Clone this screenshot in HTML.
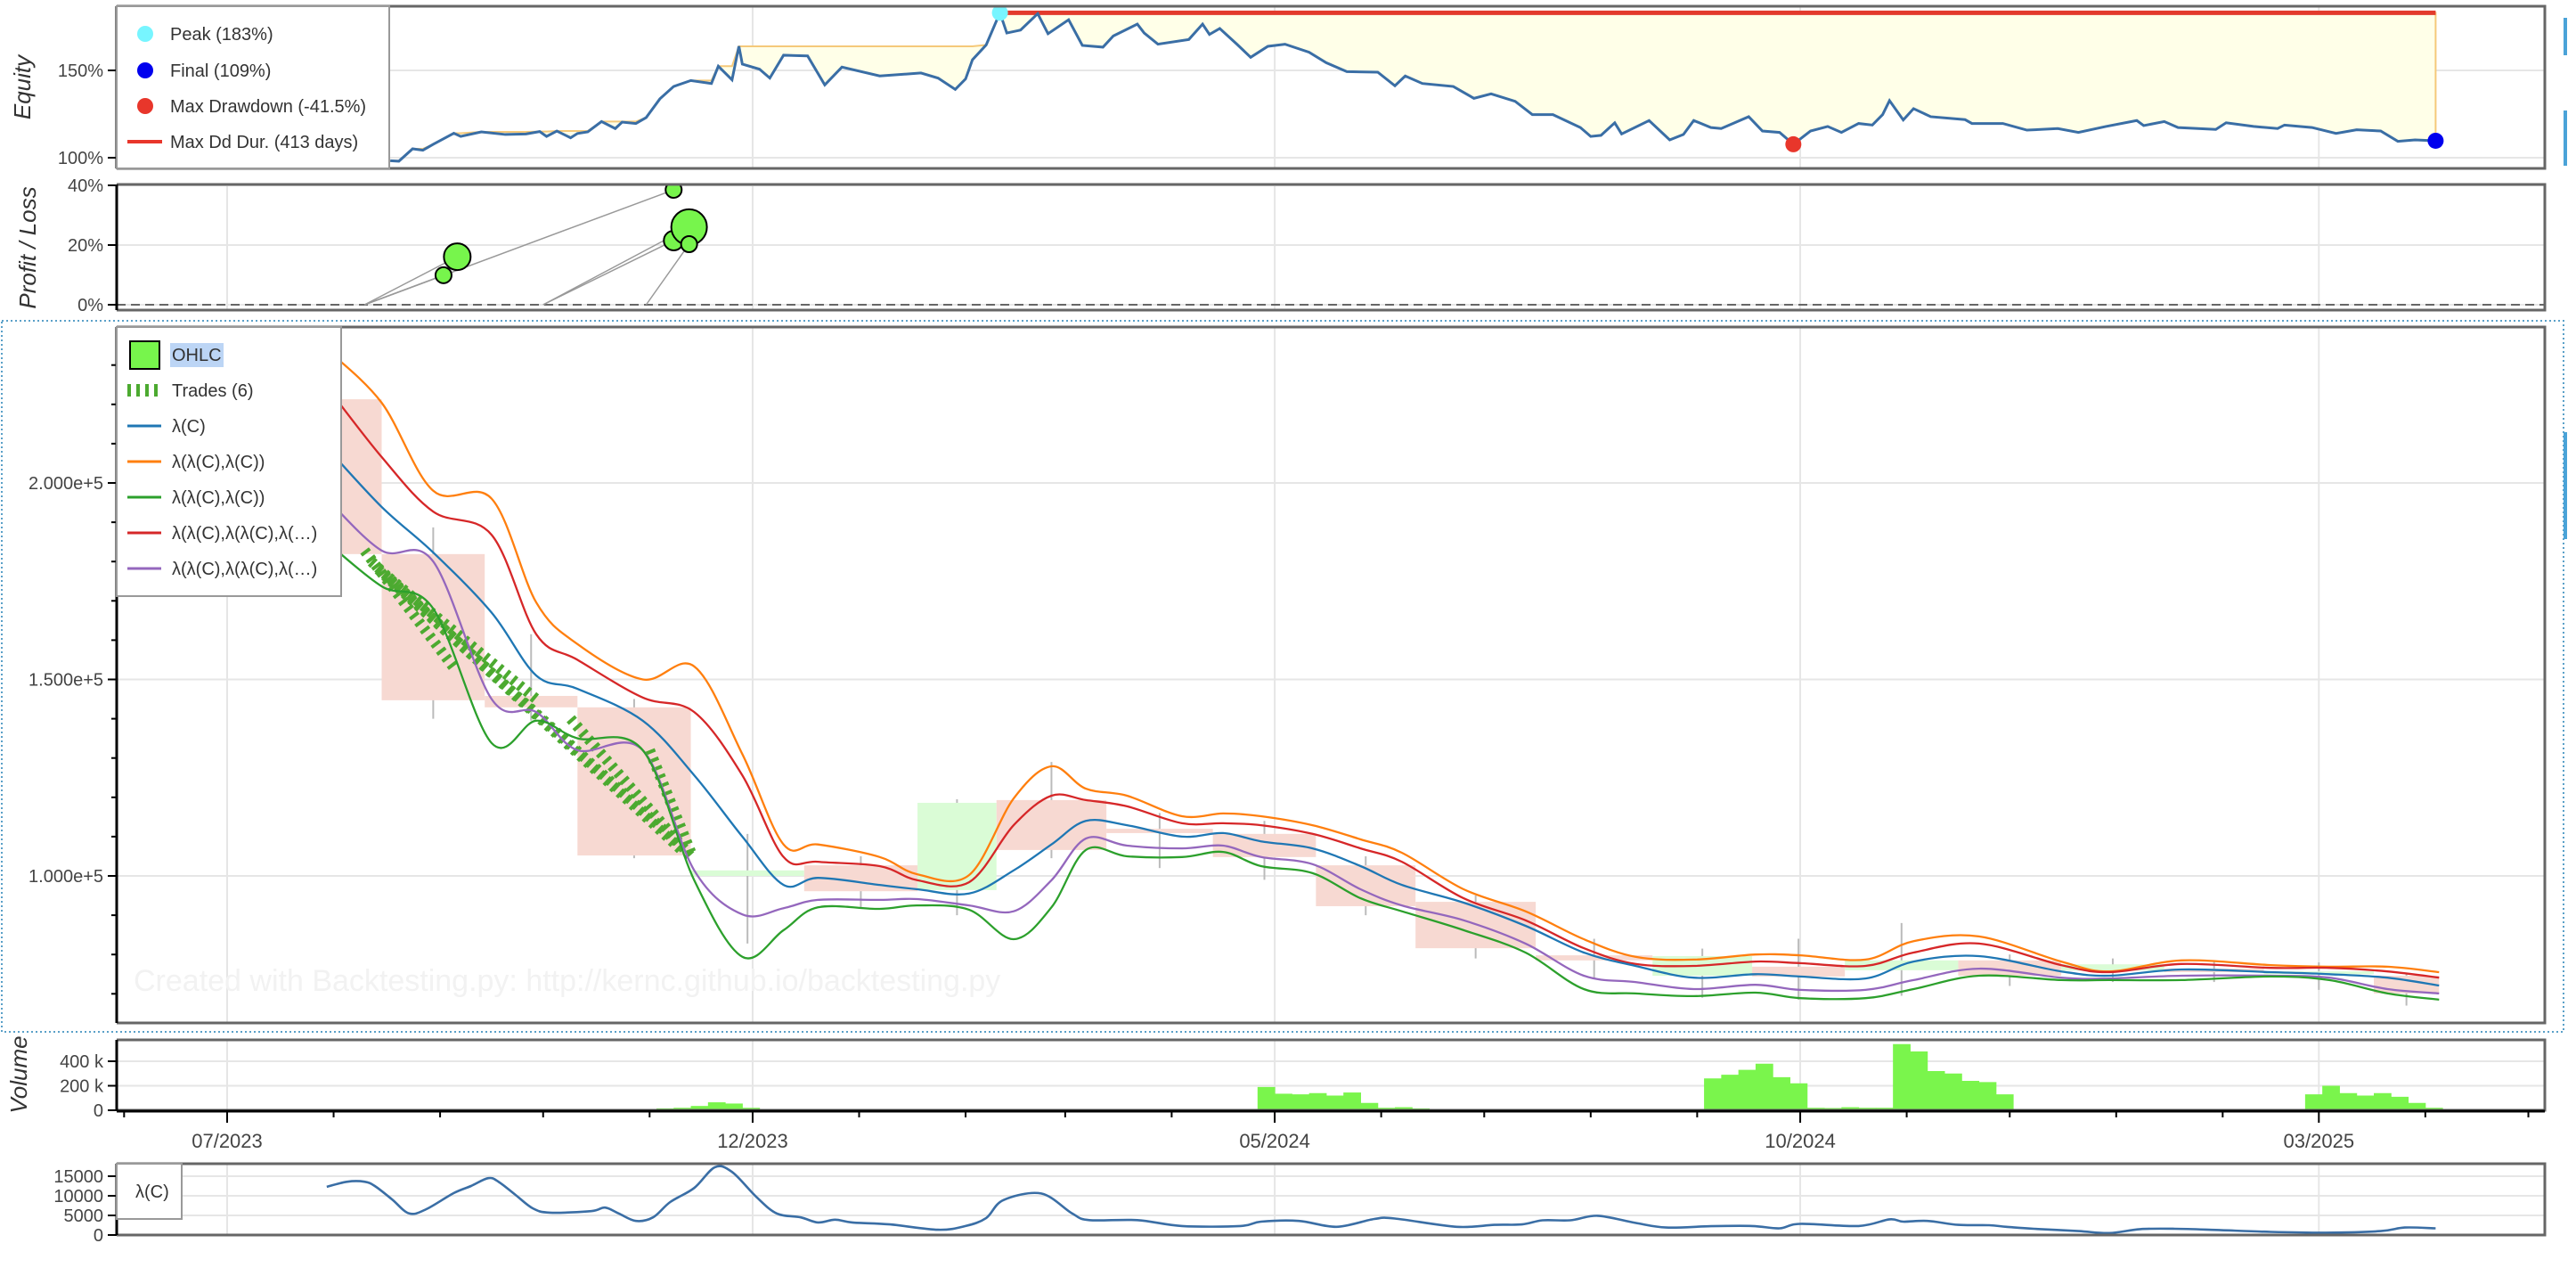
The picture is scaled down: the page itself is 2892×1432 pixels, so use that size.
<!DOCTYPE html>
<html><head><meta charset="utf-8"><style>
html,body{margin:0;padding:0;background:#fff;}
svg{display:block;font-family:"Liberation Sans",sans-serif;}
</style></head><body>
<svg id="chart" xmlns="http://www.w3.org/2000/svg" width="2892" height="1432" viewBox="0 0 2892 1432">
<defs>
<clipPath id="cEq"><rect x="131" y="7" width="2726" height="182"/></clipPath>
<clipPath id="cPl"><rect x="131" y="207" width="2726" height="141"/></clipPath>
<clipPath id="cMain"><rect x="131" y="367" width="2726" height="781"/></clipPath>
<clipPath id="cVol"><rect x="131" y="1167" width="2726" height="79"/></clipPath>
<clipPath id="cLam"><rect x="131" y="1306" width="2726" height="80"/></clipPath>
</defs>
<rect x="2" y="360" width="2876" height="798" fill="none" stroke="#5aa0c8" stroke-width="2" stroke-dasharray="2 3"/>
<g id="grid"></g>
<g id="marks"></g>
<g id="frames"></g>
<g id="axes"></g>
<text x="150" y="1112" font-size="34" fill="#f2f2f2">Created with Backtesting.py: http://kernc.github.io/backtesting.py</text>
<g id="legends">
 <g>
  <rect x="131" y="7" width="306" height="182" fill="#fff" stroke="#999" stroke-width="2"/>
  <circle cx="163" cy="38" r="9" fill="#77f5ff"/>
  <text x="191" y="45" font-size="20" fill="#333">Peak (183%)</text>
  <circle cx="163" cy="79" r="9" fill="#0000ee"/>
  <text x="191" y="86" font-size="20" fill="#333">Final (109%)</text>
  <circle cx="163" cy="119" r="9" fill="#e8362b"/>
  <text x="191" y="126" font-size="20" fill="#333">Max Drawdown (-41.5%)</text>
  <line x1="143" y1="159" x2="182" y2="159" stroke="#e8362b" stroke-width="4"/>
  <text x="191" y="166" font-size="20" fill="#333">Max Dd Dur. (413 days)</text>
 </g>
 <g>
  <rect x="131" y="367" width="252" height="302" fill="#fff" stroke="#999" stroke-width="2"/>
  <rect x="146" y="383" width="33" height="31" fill="#77f54c" stroke="#000" stroke-width="2"/>
  <rect x="191" y="385" width="60" height="27" fill="#bcd5f5"/>
  <text x="193" y="405" font-size="20" fill="#333">OHLC</text>
  <line x1="143" y1="438" x2="181" y2="438" stroke="#4caa30" stroke-width="14" stroke-dasharray="4 6"/>
  <text x="193" y="445" font-size="20" fill="#333">Trades (6)</text>
  <line x1="143" y1="478" x2="181" y2="478" stroke="#1f77b4" stroke-width="3"/>
  <text x="193" y="485" font-size="20" fill="#333">λ(C)</text>
  <line x1="143" y1="518" x2="181" y2="518" stroke="#ff7f0e" stroke-width="3"/>
  <text x="193" y="525" font-size="20" fill="#333">λ(λ(C),λ(C))</text>
  <line x1="143" y1="558" x2="181" y2="558" stroke="#2ca02c" stroke-width="3"/>
  <text x="193" y="565" font-size="20" fill="#333">λ(λ(C),λ(C))</text>
  <line x1="143" y1="598" x2="181" y2="598" stroke="#d62728" stroke-width="3"/>
  <text x="193" y="605" font-size="20" fill="#333">λ(λ(C),λ(λ(C),λ(…)</text>
  <line x1="143" y1="638" x2="181" y2="638" stroke="#9467bd" stroke-width="3"/>
  <text x="193" y="645" font-size="20" fill="#333">λ(λ(C),λ(λ(C),λ(…)</text>
 </g>
 <g>
  <rect x="131" y="1306" width="73" height="62" fill="#fff" stroke="#999" stroke-width="2"/>
  <text x="152" y="1344" font-size="20" fill="#333">λ(C)</text>
 </g>
</g>
<rect x="2878" y="20" width="4" height="42" fill="#4aa3d8"/>
<rect x="2878" y="124" width="4" height="62" fill="#4aa3d8"/>
<rect x="2878" y="485" width="4" height="120" fill="#4aa3d8"/>
<text transform="translate(34,98) rotate(-90)" text-anchor="middle" font-size="26" font-style="italic" fill="#333">Equity</text>
<text transform="translate(40,278) rotate(-90)" text-anchor="middle" font-size="26" font-style="italic" fill="#333">Profit / Loss</text>
<text transform="translate(30,1206) rotate(-90)" text-anchor="middle" font-size="26" font-style="italic" fill="#333">Volume</text>
</svg>
<script>
// ---- main price chart data (days since 2023-07-01, values in thousands) ----
const lineDays = [29,45,60,77,90,102,121,136,150,162,172,190,201,216,229,240,250,262,278,290,301,316,330,342,360,378,395,410,427,445,458,477,491,510,534,548,569,595,612,629,644];
const lamC = [209,193.9,182.3,167,151,147.6,139.5,125.6,110,97.7,99.5,97.7,96.6,95.5,101.4,108,114,112.9,110,110.9,108.8,107,102.5,97.7,93.2,87.3,80.5,77.1,74.1,75,74.4,73.9,78.2,79.6,75.7,74.6,76.2,75.5,75,74.1,72.1];
const upperBand = [234,220.4,198,196,169.6,159,150,153.3,131,108,108,104.8,100.4,100.2,119.7,127.9,122.2,120.4,115.2,115.9,115.2,112.9,109.3,105.9,96.6,91,83.9,79.4,78.7,80,79.8,78.7,83.4,84.6,78.2,75.7,78.5,77.3,76.9,76.9,75.5];
const lowerBand = [185,173.7,168,133.8,139.5,135,132,98.9,79.4,86.2,92,91.6,92.5,91.4,83.9,92,106.6,105,104.8,106.1,102.5,100.7,94.3,91,86.2,80.5,71.2,70.1,69.4,70.3,68.9,68.9,71.2,74.6,73.5,73.5,73.5,74.4,73.5,70.1,68.5];
const redLine = [224.5,206.6,192.7,186.8,161.5,155,145.4,141.7,125.6,104.8,103.6,102.5,98.9,98.4,112.9,120.4,119.3,117.7,113.4,113.4,112.9,110.7,107,103.6,94.3,88.7,81.6,77.6,77.1,78.2,77.8,77.1,80.5,82.8,77.3,75.5,77.6,76.6,76.6,75.7,74.1];
const purpleLine = [196,182.8,180,145,141.7,132,132,101.4,90.2,91.8,93.9,93.9,94.1,92.5,91,98.9,109.5,107.7,107,107.7,104.8,103,96.6,92.5,88.7,82.8,74.6,73,71.2,72.3,71,71,73.5,76.4,74.1,73.9,74.6,74.6,74.1,71.2,70.1];
// monthly candles
const cStart = [10,45,75,102,135,168,201,224,256,287,317,346,381,415,444,471,504,534,564,593,625];
const cEnd = [45,75,102,135,168,201,224,256,287,317,346,381,415,444,471,504,534,564,593,625,644];
const cOpen = [221.3,181.9,145.8,142.9,100,102.7,96.4,119.3,112,110.7,102.7,93.4,79.8,74.6,76.9,76,78.5,75.9,76.4,75,74.6];
const cClose = [181.9,144.7,142.9,105.2,101.4,96.1,118.6,106.6,110.9,104.8,92.3,81.6,78.5,79.6,74.4,78.5,74.6,77.5,75.5,75.7,70.1];
const cHigh = [236,188.7,161.5,145,110.7,105,119.5,129,116,114,105,95,84,81.5,84,88,80,79,78.5,78,75];
const cLow = [178,140,139.5,104.5,82.8,92,90,104.5,102,99,90,79,74,69,68.5,69.5,72,73,73,71,67];
// trades
const tEntryDay = [40,42,44,47,100,123];
const tEntryPx = [182.8,180,178,176,140,132];
const tExitDay = [66,133,133,90,135,135];
const tExitPx = [153,106,107,145,105,106];
// equity
const eqDays = [47.5,50,54,57,60,66,68,74,81,87,91,93,96,100,102,105,109,113,115,119,122,126,130,135,141,143,147,149,150,155,158,162,169,174,179,190,202,207,212,215,217,221,225,227,231,236,239,245,249,255,258,265,267,271,280,284,286,289,294,298,303,308,315,320,326,335,340,343,348,357,363,368,375,380,386,394,397,400,404,406,414,420,424,427,432,435,443,447,452,456,461,466,470,475,479,482,484,488,491,496,506,508,517,524,533,539,547,556,558,564,568,579,582,590,597,599,607,614,620,627,632,637,643];
const eqPct = [98.3,98,105.1,104.3,107.7,114,112.2,114.8,113.3,113.6,115,112.2,115.3,111.4,113.9,114.8,120.7,116.7,120.4,119.6,123,133.7,140.8,144.2,142.5,152.4,144.6,163.8,153.6,150.7,145.6,158.7,158.3,141.7,151.9,146.8,148.5,145.6,139.1,145.1,156.1,164.6,183,171.4,173.1,182.5,171,179,164.3,163.3,169.7,176.5,171.4,165,167.7,176.5,170.6,174,165,157.5,163.8,165,160.4,154.4,149.3,149,141.2,146.8,142.5,140.8,134,136.6,132.3,124.7,124.7,117.3,112.2,112.8,120,113.6,121.3,110.2,113.3,121.3,117.3,116.7,123.5,115.3,114.5,107.7,115.3,117.9,114.5,119.6,118.7,124.7,132.7,121.6,128.1,123.5,121.8,119.6,119.6,115.8,116.7,114.5,117.9,121.3,118.4,120.7,117.3,116.2,120,117.9,116.7,118.7,117.3,113.9,116,115.3,109.4,110.2,109.7];
// profit/loss scatter
const plEntryDay = [40,40,40,92,92,122];
const plExitDay = [63,67,130,130,134.5,134.5];
const plPct = [9.9,16.1,38.5,21.5,26,20.3];
const plSize = [9,15,9,11,20,9];
// volume in thousands, 5-day bins starting at day 0
const volK = [8,3,3,3,3,3,3,3,3,3,3,3,3,3,3,3,3,3,3,3,3,3,3,3,8,15,20,35,65,55,20,10,5,5,5,5,5,5,5,5,5,5,5,5,5,5,5,5,5,5,5,5,5,5,5,5,5,5,5,5,190,135,130,140,120,145,60,20,25,15,10,8,5,5,5,5,5,5,5,5,5,5,5,5,5,5,260,290,330,380,270,220,20,18,25,20,20,540,480,320,300,240,230,130,10,10,10,10,10,10,10,10,10,10,10,10,10,10,10,10,10,130,200,140,120,140,110,60,20];
// indicator panel
const lamDays = [29,35,40,43,48,53,58,66,71,76,79,84,89,94,106,110,114,119,124,129,136,142,147,154,160,167,172,177,182,193,207,215,221,226,237,246,251,265,278,295,301,312,323,334,340,358,369,377,383,391,399,410,419,432,444,452,458,475,484,488,495,504,513,518,526,539,548,557,567,579,595,611,627,634,643];
const lamVal = [12.3,13.6,13.6,12.5,9.1,5.5,6.6,10.7,12.5,14.5,13.6,10.2,6.8,5.7,6.1,7,5.5,3.6,4.5,8.4,12,17.3,16.1,9.8,5.5,4.5,3.2,3.9,3.2,2.7,1.35,2.3,4.35,8.9,10.6,5.5,3.8,3.8,2.3,2.3,3.4,3.6,2.1,4.1,4.2,2.1,2.6,2.7,3.75,3.75,4.9,3.1,1.9,2.25,2.3,1.7,2.85,2.3,4,3.4,3.6,2.6,2.5,2.1,1.6,1,0.5,1.5,1.6,1.3,0.8,0.6,1,1.9,1.7];
// tick labels
const majorMonths = ["07/2023","12/2023","05/2024","10/2024","03/2025"];
const eqTicks = [100,150];
const plTicks = [0,20,40];
const mainTicks = [100,150,200];
const volTicks = [0,200,400];
const lamTicks = [0,5000,10000,15000];

const NS = "http://www.w3.org/2000/svg";
const X = d => 255 + 3.856*d;
const YM = v => 983 - (v-100)*4.41;
const YE = p => 177 - (p-100)*1.96;
const YP = p => 342 - p*3.35;
const YV = k => 1246 - k*0.1375;
const YL = v => 1386 - v*0.0044;
function mk(tag, attrs, parent){const e=document.createElementNS(NS,tag);for(const k in attrs)e.setAttribute(k,attrs[k]);parent.appendChild(e);return e;}
function smoothPath(pts){let d='M'+pts[0][0]+' '+pts[0][1];for(let i=0;i<pts.length-1;i++){const p0=pts[i-1]||pts[i],p1=pts[i],p2=pts[i+1],p3=pts[i+2]||p2;
const c1x=p1[0]+(p2[0]-p0[0])/6,c1y=p1[1]+(p2[1]-p0[1])/6,c2x=p2[0]-(p3[0]-p1[0])/6,c2y=p2[1]-(p3[1]-p1[1])/6;
d+=` C${c1x.toFixed(1)} ${c1y.toFixed(1)} ${c2x.toFixed(1)} ${c2y.toFixed(1)} ${p2[0].toFixed(1)} ${p2[1].toFixed(1)}`;}return d;}
const grid=document.getElementById('grid'), marks=document.getElementById('marks'), frames=document.getElementById('frames'), axes=document.getElementById('axes');
const panels=[{t:7,b:189},{t:207,b:348},{t:367,b:1148},{t:1167,b:1246},{t:1306,b:1386}];
function dayOf(y,m){return (Date.UTC(y,m,1)-Date.UTC(2023,6,1))/86400000;}
const months=[];for(let y=2023,m=5;y<2025||m<=4;){months.push({d:dayOf(y,m),lab:String(m+1).padStart(2,'0')+'/'+y});m++;if(m>11){m=0;y++;}}
const majors=months.filter(o=>majorMonths.includes(o.lab));
panels.forEach(p=>{majors.forEach(o=>{const g=mk('line',{x1:X(o.d),x2:X(o.d),y1:p.t,y2:p.b,stroke:'#e6e6e6','stroke-width':2},grid);

});});
function hgrid(vals,fy){vals.forEach(v=>{const y=fy(v);const g=mk('line',{x1:131,x2:2857,y1:y,y2:y,stroke:'#e6e6e6','stroke-width':2},grid);

});}
hgrid(eqTicks,YE);hgrid(plTicks,YP);hgrid(mainTicks,YM);hgrid(volTicks,YV);hgrid(lamTicks,YL);

// ---- equity ----
const gEq=mk('g',{'clip-path':'url(#cEq)'},marks);
const cum=[];eqPct.forEach((v,i)=>cum.push(Math.max(v,i?cum[i-1]:v)));
let poly=eqDays.map((d,i)=>X(d)+','+YE(cum[i])).join(' ')+' '+eqDays.map((d,i)=>X(d)+','+YE(eqPct[i])).reverse().join(' ');
const dd=mk('polygon',{points:poly,fill:'#ffffe8',stroke:'#f5c97a','stroke-width':2},gEq);


const peakIdx=eqPct.indexOf(Math.max(...eqPct));
const last=eqPct.length-1;
const ddl=mk('line',{x1:X(eqDays[peakIdx]),x2:X(eqDays[last]),y1:YE(eqPct[peakIdx]),y2:YE(eqPct[peakIdx]),stroke:'#e33a2c','stroke-width':5},gEq);


const eqL=mk('polyline',{points:eqDays.map((d,i)=>X(d)+','+YE(eqPct[i])).join(' '),fill:'none',stroke:'#3a6ea5','stroke-width':3},gEq);


const minIdx=eqPct.indexOf(Math.min(...eqPct.slice(peakIdx)),peakIdx);
const pk=mk('circle',{cx:X(eqDays[peakIdx]),cy:YE(eqPct[peakIdx]),r:9,fill:'#77f5ff'},gEq);


const mdd=mk('circle',{cx:X(eqDays[minIdx]),cy:YE(eqPct[minIdx]),r:9,fill:'#e8362b'},gEq);


const fin=mk('circle',{cx:X(eqDays[last]),cy:YE(eqPct[last]),r:9,fill:'#0000ee'},gEq);



// ---- P/L ----
const gPl=mk('g',{'clip-path':'url(#cPl)'},marks);
const zl=mk('line',{x1:131,x2:2857,y1:YP(0),y2:YP(0),stroke:'#666','stroke-width':2,'stroke-dasharray':'10 6'},gPl);


plPct.forEach((p,i)=>{const l=mk('line',{x1:X(plEntryDay[i]),y1:YP(0),x2:X(plExitDay[i]),y2:YP(p),stroke:'#999','stroke-width':1.5},gPl);

});
plPct.forEach((p,i)=>{const c=mk('circle',{cx:X(plExitDay[i]),cy:YP(p),r:plSize[i],fill:'#77f54c',stroke:'#000','stroke-width':2},gPl);

});

// ---- main ----
const gM=mk('g',{'clip-path':'url(#cMain)'},marks);
cOpen.forEach((o,i)=>{const cx=X((cStart[i]+cEnd[i])/2);const w=mk('line',{x1:cx,x2:cx,y1:YM(cHigh[i]),y2:YM(cLow[i]),stroke:'#bbb','stroke-width':2},gM);

});
cOpen.forEach((o,i)=>{const c=cClose[i];const y1=YM(Math.max(o,c)),y2=YM(Math.min(o,c));const r=mk('rect',{x:X(cStart[i]),width:X(cEnd[i])-X(cStart[i]),y:y1,height:Math.max(y2-y1,3),fill:c>=o?'#dafcd6':'#f7d9d2'},gM);

});
tEntryDay.forEach((d,i)=>{const l=mk('line',{x1:X(d),y1:YM(tEntryPx[i]),x2:X(tExitDay[i]),y2:YM(tExitPx[i]),stroke:'#4caa30','stroke-width':12,'stroke-dasharray':'4 6'},gM);

});
[[upperBand,'#ff7f0e','upper-band-line'],[redLine,'#d62728','red-indicator-line'],[lamC,'#1f77b4','lambda-c-line'],[purpleLine,'#9467bd','purple-indicator-line'],[lowerBand,'#2ca02c','lower-band-line']].forEach(s=>{
const l=mk('path',{d:smoothPath(lineDays.map((d,i)=>[X(d),YM(s[0][i])])),fill:'none',stroke:s[1],'stroke-width':2.3,'stroke-linejoin':'round'},gM);

});

// ---- volume ----
const gV=mk('g',{'clip-path':'url(#cVol)'},marks);
volK.forEach((v,i)=>{const y=YV(v);const r=mk('rect',{x:X(i*5),width:X(5)-X(0)+0.5,y:y,height:1246-y,fill:'#7af54c'},gV);

});

// ---- indicator panel ----
const gL=mk('g',{'clip-path':'url(#cLam)'},marks);
const ll=mk('path',{d:smoothPath(lamDays.map((d,i)=>[X(d),YL(lamVal[i]*1000)])),fill:'none',stroke:'#3a6ea5','stroke-width':2.6},gL);



// ---- frames ----
panels.forEach(p=>{const f=mk('path',{d:`M131 ${p.t} H2857 V${p.b} H131`,fill:'none',stroke:'#666','stroke-width':3},frames);


const a=mk('line',{x1:131,x2:131,y1:p.t,y2:p.b,stroke:'#000','stroke-width':3},frames);

});
const xa=mk('line',{x1:131,x2:2857,y1:1247,y2:1247,stroke:'#000','stroke-width':3},frames);



// ---- y tick labels ----
function yticks(vals,fy,fmt,name){vals.forEach(v=>{const y=fy(v);const t=mk('line',{x1:121,x2:131,y1:y,y2:y,stroke:'#000','stroke-width':2},axes);


const tx=mk('text',{x:116,y:y+7,'text-anchor':'end','font-size':20,fill:'#444'},axes);tx.textContent=fmt(v);

});}
yticks(eqTicks,YE,v=>v+'%','equity-y');
yticks(plTicks,YP,v=>v+'%','pl-y');
yticks(mainTicks,YM,v=>(v/100).toFixed(3)+'e+5','price-y');
yticks(volTicks,YV,v=>v===0?'0':v+' k','volume-y');
yticks(lamTicks,YL,v=>String(v),'indicator-y');
for(let v=70;v<=230;v+=10){if(v%50===0)continue;const y=YM(v);const t=mk('line',{x1:125,x2:131,y1:y,y2:y,stroke:'#000','stroke-width':2},axes);

}
months.forEach(o=>{const x=X(o.d);if(x<131||x>2857)return;const maj=majorMonths.includes(o.lab);const t=mk('line',{x1:x,x2:x,y1:1247,y2:maj?1260:1254,stroke:'#000','stroke-width':2},axes);


if(maj){const tx=mk('text',{x:x,y:1288,'text-anchor':'middle','font-size':22,fill:'#444'},axes);tx.textContent=o.lab;

}});
</script>
</body></html>
